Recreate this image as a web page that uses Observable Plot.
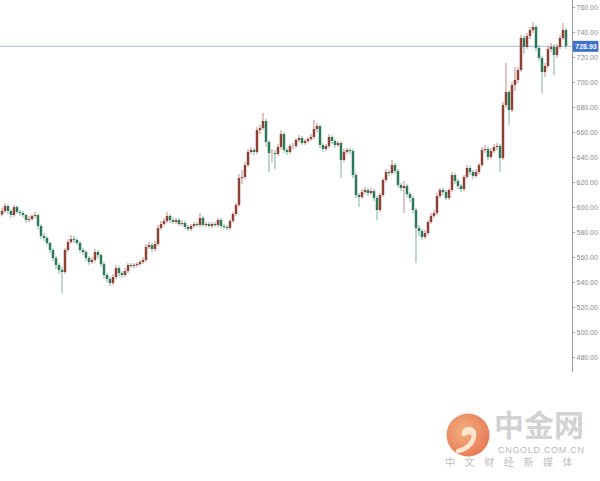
<!DOCTYPE html>
<html>
<head>
<meta charset="utf-8">
<script src="https://cdn.jsdelivr.net/npm/d3@7"></script>
<script src="https://cdn.jsdelivr.net/npm/@observablehq/plot@0.6"></script>
<style>
  html, body { margin: 0; padding: 0; background: #fff; }
  #wrap { position: relative; width: 600px; height: 481px; overflow: hidden; }
  .wm { position: absolute; white-space: nowrap; line-height: 1; }
</style>
</head>
<body>
<div id="wrap">
  <div id="chart"></div>
  <svg class="wm" style="left:446px;top:413px" width="44" height="44" viewBox="-22 -22 44 44">
    <defs>
      <radialGradient id="lg" cx="40%" cy="40%" r="65%">
        <stop offset="0%" stop-color="#f4b083"/>
        <stop offset="100%" stop-color="#e67a55"/>
      </radialGradient>
    </defs>
    <circle r="21.5" fill="url(#lg)"/>
    <path d="M-4,-1 a5,5 0 1,1 10,0 c0,9 -7,15 -16,17" fill="none" stroke="#fde7cc" stroke-width="4.5" stroke-linecap="round"/>
    <path d="M-1,-1 a1.8,1.8 0 1,1 3.6,0" fill="none" stroke="#fde7cc" stroke-width="2.5" stroke-linecap="round"/>
  </svg>
  <div class="wm" style="left:494px;top:408px;font-size:30px;font-weight:bold;color:#d2d2d2;font-family:'Noto Sans CJK SC',sans-serif;">中金网</div>
  <div class="wm" style="left:498px;top:446px;font-size:9px;letter-spacing:0.7px;color:#b8b8b8;font-family:Arial,'Liberation Sans',sans-serif;">CNGOLD.COM.CN</div>
  <div class="wm" style="left:445px;top:457px;font-size:10px;letter-spacing:9.6px;color:#c0c0c0;font-family:'Noto Sans CJK SC',sans-serif;">中文财经新媒体</div>
</div>
<script>
const firstOpen = 594.0;
const close = [596.8,600.8,596.8,593.6,600.0,596.0,595.2,593.6,589.6,590.4,
592.8,593.6,584.8,576.8,575.2,571.2,565.6,559.2,553.6,549.6,
548.0,565.6,572.0,574.4,573.6,571.2,565.6,564.0,559.2,556.0,
557.6,564.0,561.6,554.4,545.6,542.4,539.2,544.0,551.2,547.2,
545.6,548.8,553.6,552.8,553.6,554.4,556.0,557.6,568.0,569.6,
566.4,570.4,583.2,586.4,588.8,592.8,589.6,588.0,589.6,586.4,
587.2,584.0,582.4,584.8,586.4,585.6,591.2,585.6,586.4,584.8,
586.4,585.6,589.6,584.8,584.0,583.2,588.8,594.4,601.6,623.2,
624.0,633.6,644.0,645.6,644.0,661.6,663.2,668.8,652.0,643.2,
643.2,642.4,648.0,658.4,645.6,644.0,648.8,648.8,653.6,655.2,
651.2,652.8,654.4,656.0,662.4,664.8,649.6,646.4,648.8,656.0,
652.8,649.6,651.2,637.6,644.0,645.6,644.8,625.6,609.6,608.0,
612.0,613.6,611.2,612.8,607.2,597.6,609.6,621.6,628.0,627.2,
633.6,628.8,617.6,615.2,616.8,610.4,607.2,597.6,583.2,580.8,
576.0,579.2,588.0,592.8,595.2,608.8,613.6,612.0,607.2,613.6,
625.6,620.8,616.8,614.4,624.0,631.2,628.0,624.8,628.0,633.6,
645.6,646.4,640.0,644.8,648.0,648.8,639.2,681.6,692.0,677.6,
697.6,701.6,709.6,735.2,728.0,736.8,741.6,744.0,727.2,719.2,
708.0,712.8,726.4,728.0,721.6,728.0,735.2,741.6,728.93];
const high = [599.5,603.2,602.0,598.0,601.6,601.2,597.6,596.8,594.4,592.8,
594.4,596.0,594.4,586.4,579.2,576.8,572.0,567.2,560.8,555.2,
552.0,567.2,574.4,577.6,576.8,575.2,572.8,567.2,565.6,560.8,
560.0,566.4,565.6,562.4,556.0,547.2,544.0,546.4,553.6,552.8,
548.8,551.2,555.2,555.2,555.2,556.0,557.6,560.0,570.4,572.0,
571.2,572.8,585.6,588.8,591.2,596.0,594.4,591.2,591.2,591.2,
589.6,588.8,585.6,586.4,588.0,588.0,595.2,592.8,588.0,588.0,
588.0,588.0,591.2,591.2,586.4,585.6,590.4,596.0,603.2,626.4,
629.6,636.0,646.4,648.0,647.2,664.0,665.6,675.2,670.4,653.6,
646.4,645.6,650.4,661.6,660.0,647.2,650.4,651.2,655.2,657.6,
656.8,654.4,656.0,658.4,669.6,667.2,665.6,651.2,650.4,658.4,
657.6,654.4,652.8,652.8,646.4,647.2,647.2,646.4,627.2,611.2,
614.4,616.0,615.2,615.2,614.4,608.8,611.2,623.2,630.4,629.6,
637.6,635.2,630.4,619.2,620.8,618.4,612.0,608.8,599.2,585.6,
582.4,581.6,589.6,595.2,597.6,611.2,615.2,615.2,613.6,615.2,
628.0,627.2,622.4,618.4,625.6,633.6,632.8,629.6,630.4,635.2,
648.0,649.6,648.0,647.2,650.4,651.2,650.4,684.0,715.2,693.6,
700.0,712.0,712.0,737.6,737.6,739.2,744.0,748.0,745.6,729.6,
720.8,715.2,728.8,731.2,730.4,730.4,737.6,747.2,743.2];
const low = [592.5,595.0,594.4,591.2,592.0,594.4,593.0,591.6,587.2,588.0,
589.0,591.2,582.4,574.4,572.8,569.6,563.2,556.8,550.4,546.4,
531.2,546.4,564.0,570.4,571.2,569.6,563.2,561.6,556.8,553.6,
554.4,556.0,559.2,552.0,543.2,540.0,536.8,537.6,542.4,544.8,
543.2,544.0,547.2,551.2,551.2,552.0,552.8,554.4,556.0,566.4,
564.0,564.8,568.8,581.6,584.8,587.2,587.2,586.4,586.4,584.8,
584.8,582.4,580.8,580.8,583.2,584.0,584.0,584.0,584.0,583.2,
583.2,584.0,584.0,583.2,582.4,581.6,581.6,587.2,592.8,600.0,
618.4,622.4,632.0,642.4,641.6,642.4,658.4,661.6,648.0,628.0,
636.0,630.4,640.8,646.4,643.2,641.6,642.4,646.4,647.2,652.0,
649.6,649.6,651.2,652.8,654.4,660.0,647.2,644.0,644.8,647.2,
650.4,647.2,648.0,623.2,636.0,642.4,642.4,623.2,607.2,600.0,
606.4,610.4,608.8,609.6,604.8,589.6,596.0,608.0,620.0,624.8,
625.6,626.4,615.2,612.8,595.2,608.0,604.0,595.2,555.2,576.8,
573.6,574.4,577.6,586.4,591.2,593.6,607.2,609.6,605.6,605.6,
612.0,618.4,614.4,612.0,612.8,622.4,625.6,622.4,623.2,626.4,
632.0,643.2,637.6,638.4,643.2,645.6,628.0,637.6,679.2,665.6,
676.0,692.8,699.2,708.0,722.4,726.4,734.4,739.2,724.8,716.8,
691.2,704.0,711.2,724.0,705.6,719.2,726.4,733.6,726.4];
const yTicks = [480, 500, 520, 540, 560, 580, 600, 620, 640, 660, 680, 700, 720, 740, 760];
const lastPrice = 728.93;

const upColor = "#8e4236";
const downColor = "#2c7a57";

const n = Math.min(close.length, high.length, low.length);
const candles = [];
for (let i = 0; i < n; i++) {
  const open = i === 0 ? firstOpen : close[i - 1];
  candles.push({i, open, close: close[i], high: high[i], low: low[i],
    color: close[i] >= open ? upColor : downColor});
}

const xMax = 190.17;   // right edge of the plotting area (price axis)
const yDomain = [468, 765.6];

const chart = Plot.plot({
  width: 600,
  height: 481,
  marginLeft: 0,
  marginRight: 28,
  marginTop: 0,
  marginBottom: 109,
  style: {fontFamily: "Arial, 'Liberation Sans', sans-serif", fontSize: "7px", color: "#888", background: "white"},
  x: {domain: [-0.5, xMax], axis: null},
  y: {domain: yDomain, axis: null},
  color: {type: "identity"},
  marks: [
    Plot.ruleY([lastPrice], {stroke: "#a9bcd6", strokeWidth: 1}),
    Plot.ruleX(candles, {x: "i", y1: "low", y2: "high", stroke: "color", strokeOpacity: 0.6, strokeWidth: 1}),
    Plot.ruleX(candles, {x: "i", y1: "open", y2: "close", stroke: "color", strokeWidth: 2.5}),
    Plot.ruleX([xMax], {stroke: "#9a9a9a", strokeWidth: 1}),
    Plot.axisY({anchor: "right", ticks: yTicks, tickSize: 2, tickPadding: 2,
      tickFormat: d => d.toFixed(2), stroke: "#aaa", fill: "#8a8a8a", fontSize: 7}),
    Plot.ruleY([lastPrice], {x1: () => xMax + 0.3, x2: () => xMax + 8.8, stroke: "#3f6fcf", strokeWidth: 11}),
    Plot.text([lastPrice], {x: () => xMax, y: d => d, dx: 13.5, text: d => d.toFixed(2),
      fill: "white", fontSize: 7, fontWeight: "bold"})
  ]
});
document.getElementById("chart").appendChild(chart);
</script>
</body>
</html>
